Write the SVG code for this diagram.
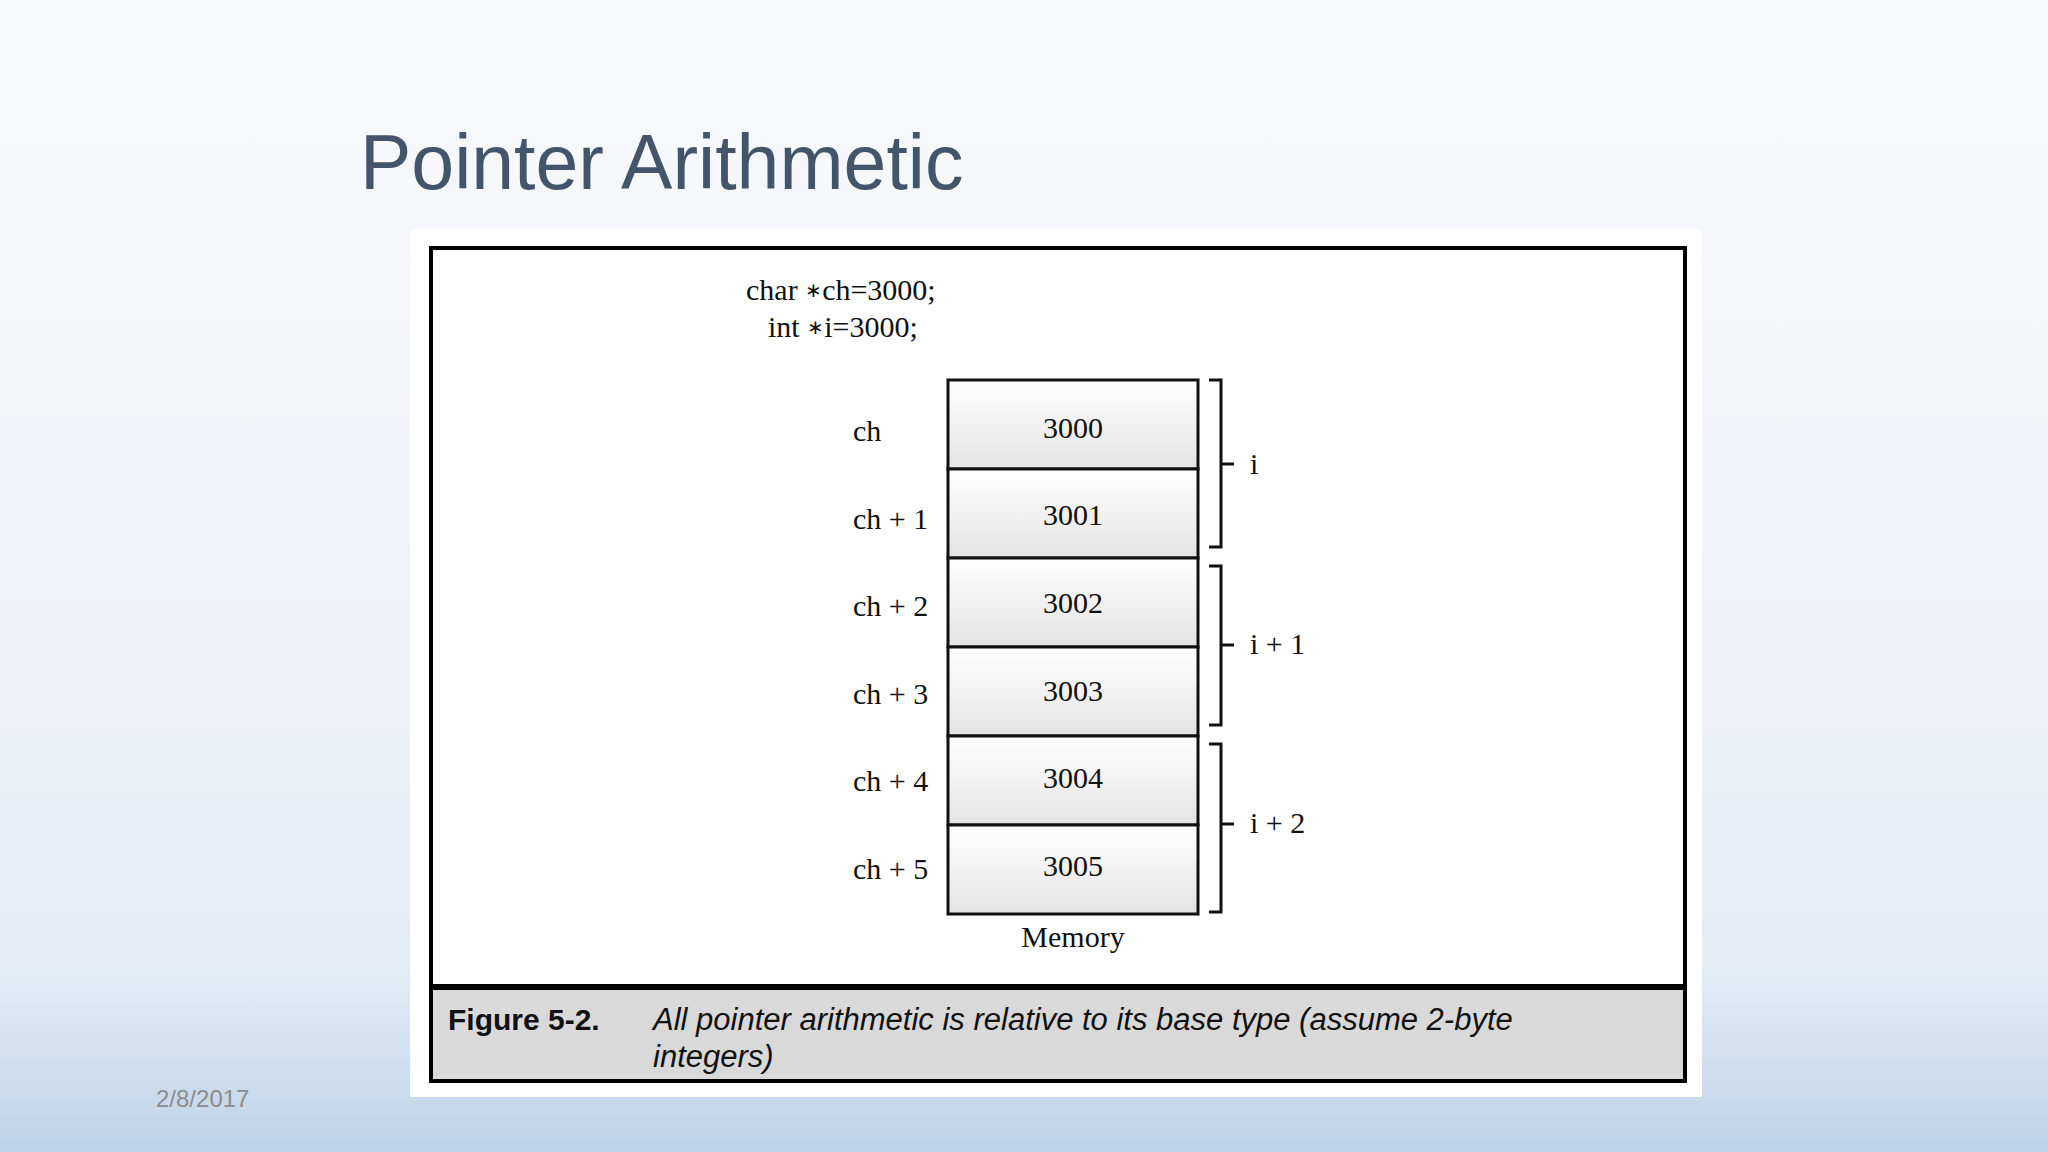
<svg xmlns="http://www.w3.org/2000/svg" width="2048" height="1152" viewBox="0 0 2048 1152">
<defs>
<linearGradient id="bg" x1="0" y1="0" x2="0" y2="1">
<stop offset="0" stop-color="#f8f9fb"/><stop offset="0.6" stop-color="#eef2f7"/><stop offset="0.85" stop-color="#e3ebf4"/><stop offset="1" stop-color="#bcd3ea"/>
</linearGradient>
<linearGradient id="cell" x1="0" y1="0" x2="0" y2="1">
<stop offset="0" stop-color="#ffffff"/><stop offset="1" stop-color="#e4e4e4"/>
</linearGradient>
<style>
.s{font-family:"Liberation Serif",serif;font-size:30px;fill:#111}
.c{text-anchor:middle}
.cell{fill:url(#cell);stroke:#111;stroke-width:3}
.br{fill:none;stroke:#111;stroke-width:3}
</style>
</defs>
<rect width="2048" height="1152" fill="url(#bg)"/>
<text x="360" y="189" font-family="Liberation Sans, sans-serif" font-size="77" fill="#44546a">Pointer Arithmetic</text>
<text x="156" y="1107" font-family="Liberation Sans, sans-serif" font-size="24" fill="#8c8c8c">2/8/2017</text>
<rect x="410" y="229" width="1292" height="868" fill="#fff"/>
<rect x="431" y="248" width="1254" height="833" fill="#fff" stroke="#000" stroke-width="4"/>
<rect x="433" y="987" width="1250" height="92" fill="#d9d9d9"/>
<line x1="431" y1="987" x2="1685" y2="987" stroke="#000" stroke-width="6"/>
<text x="448" y="1030" font-family="Liberation Sans, sans-serif" font-size="30" font-weight="bold" fill="#111">Figure  5-2.</text>
<text font-family="Liberation Sans, sans-serif" font-size="31" font-style="italic" fill="#111"><tspan x="653" y="1030">All pointer arithmetic is relative to its base type (assume 2-byte</tspan><tspan x="653" y="1067">integers)</tspan></text>
<text class="s" x="746" y="300">char <tspan font-size="20" dy="-3">∗</tspan><tspan dy="3">ch=3000;</tspan></text>
<text class="s" x="768" y="337">int <tspan font-size="20" dy="-3">∗</tspan><tspan dy="3">i=3000;</tspan></text>
<g id="memory">
<rect class="cell" x="948" y="380" width="250" height="89"/>
<rect class="cell" x="948" y="469" width="250" height="89"/>
<rect class="cell" x="948" y="558" width="250" height="89"/>
<rect class="cell" x="948" y="647" width="250" height="89"/>
<rect class="cell" x="948" y="736" width="250" height="89"/>
<rect class="cell" x="948" y="825" width="250" height="89"/>
<text class="s c" x="1073" y="438">3000</text>
<text class="s c" x="1073" y="525">3001</text>
<text class="s c" x="1073" y="613">3002</text>
<text class="s c" x="1073" y="701">3003</text>
<text class="s c" x="1073" y="788">3004</text>
<text class="s c" x="1073" y="876">3005</text>
<text class="s c" x="1073" y="947">Memory</text>
</g>
<g id="labels">
<text class="s" x="853" y="441">ch</text>
<text class="s" x="853" y="529">ch + 1</text>
<text class="s" x="853" y="616">ch + 2</text>
<text class="s" x="853" y="704">ch + 3</text>
<text class="s" x="853" y="791">ch + 4</text>
<text class="s" x="853" y="879">ch + 5</text>
</g>
<g id="brackets">
<path class="br" d="M1209 380H1221V547H1209M1221 464H1234"/>
<path class="br" d="M1209 566H1221V725H1209M1221 645H1234"/>
<path class="br" d="M1209 744H1221V912H1209M1221 824H1234"/>
<text class="s" x="1250" y="474">i</text>
<text class="s" x="1250" y="654">i + 1</text>
<text class="s" x="1250" y="833">i + 2</text>
</g>
</svg>
